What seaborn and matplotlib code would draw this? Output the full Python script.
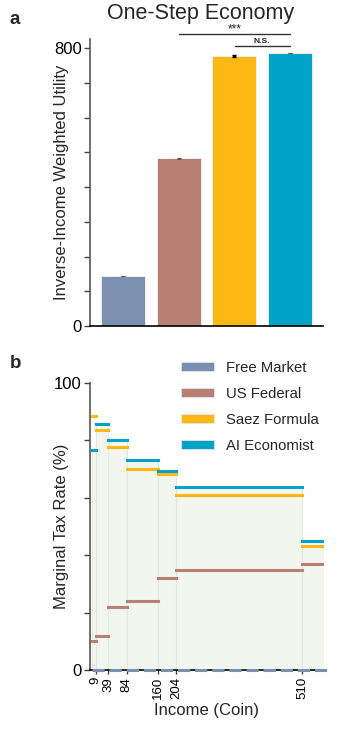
import numpy as np
import pandas as pd
import matplotlib
matplotlib.use("Agg")
import matplotlib.pyplot as plt
import seaborn as sns
from matplotlib.patches import Patch

sns.set_theme(style="white")
plt.rcParams['font.family'] = ['Liberation Sans', 'DejaVu Sans']

# ---------------- data ----------------
policies = ["Free Market", "US Federal", "Saez Formula", "AI Economist"]
utility = [144, 483, 777, 786]
utility_err = [1, 1, 4, 1]
colors = ["#7b8fae", "#b88074", "#fdb813", "#00a3c8"]

bracket_edges = [0, 9, 39, 84, 160, 204, 510, 570]
income_ticks = [9, 39, 84, 160, 204, 510]
rate_free = [0, 0, 0, 0, 0, 0, 0]
rate_us = [10, 12, 22, 24, 32, 35, 37]
rate_saez = [88.4, 83.6, 77.7, 69.9, 68.3, 61.1, 43.2]
rate_ai = [76.6, 85.7, 80.0, 73.1, 69.3, 63.8, 44.8]

W, H = 343, 732
fig = plt.figure(figsize=(W / 100, H / 100), dpi=100)

def ax_rect(l, t, r, b):
    return [l / W, 1 - b / H, (r - l) / W, (b - t) / H]

LABEL_FS = 12
TICK_FS = 12

# ---------------- panel a ----------------
axa = fig.add_axes(ax_rect(90, 39, 323, 326))
df = pd.DataFrame({"policy": policies, "utility": utility})
sns.barplot(data=df, x="policy", y="utility", hue="policy", palette=colors,
            order=policies, ax=axa, width=0.8, legend=False, errorbar=None,
            saturation=1, edgecolor="#f4f4f4", linewidth=0.6)
axa.errorbar([0, 1, 3], [utility[i] for i in (0, 1, 3)],
             yerr=[utility_err[i] for i in (0, 1, 3)], fmt="none",
             ecolor="#555555", elinewidth=0.8, capsize=1.5, capthick=0.8)
axa.errorbar([2], [utility[2]], yerr=[utility_err[2]], fmt="none", ecolor="black",
             elinewidth=2.5, capsize=1.5, capthick=1)
axa.set_xlim(-0.6, 3.6)
axa.set_ylim(0, 826)
axa.set_yticks(np.arange(0, 801, 100))
axa.set_yticklabels(["0", "", "", "", "", "", "", "", "800"])
axa.set_xticks([])
axa.set_xlabel("")
axa.set_ylabel("Inverse-Income Weighted Utility", fontsize=LABEL_FS)
axa.yaxis.set_label_coords(-0.092, 0.5)
axa.tick_params(axis="y", direction="out", length=4, width=1, colors="#444444",
                labelcolor="black", labelsize=TICK_FS, pad=2, left=True)
for s in ["top", "right"]:
    axa.spines[s].set_visible(False)
axa.spines["left"].set_color("#555555")
axa.spines["bottom"].set_color("black")
axa.spines["left"].set_linewidth(1.2)
axa.spines["bottom"].set_linewidth(1.2)

# significance markers
axa.plot([1, 3], [840, 840], color="#333333", lw=1, clip_on=False)
axa.text(2, 836, "***", ha="center", va="bottom", fontsize=8.5)
axa.plot([2.02, 3], [806, 806], color="#333333", lw=1, clip_on=False)
axa.text(2.5, 808, "N.S.", ha="center", va="bottom", fontsize=6, fontweight="bold")

fig.text(201 / W, 1 - 14 / H, "One-Step Economy", ha="center", va="center", fontsize=15.5)
fig.text(10 / W, 1 - 19 / H, "a", ha="left", va="center", fontsize=13.5, fontweight="bold")

# ---------------- panel b ----------------
axb = fig.add_axes(ax_rect(90, 383, 324, 670))
axb.set_xlim(-4.7, 563)
axb.set_ylim(0, 100)

lefts = bracket_edges[:-1]
widths = np.diff(bracket_edges)
axb.bar(lefts, rate_ai, width=widths, align="edge", color="#f2f6ee",
        edgecolor="#e3e9dd", linewidth=0.8, zorder=1)

series = [(rate_free, colors[0]), (rate_us, colors[1]),
          (rate_saez, colors[2]), (rate_ai, colors[3])]
for vals, c in series[1:]:
    for i, v in enumerate(vals):
        axb.plot([bracket_edges[i], bracket_edges[i + 1]], [v, v], color=c,
                 lw=2.2, solid_capstyle="projecting", zorder=3)
axb.plot([bracket_edges[0], bracket_edges[-1]], [rate_free[0], rate_free[-1]],
         color=colors[0], lw=2.2, linestyle=(0, (4, 1.6)), zorder=4, clip_on=False)

axb.set_yticks(np.arange(0, 101, 20))
axb.set_yticklabels(["0", "", "", "", "", "100"])
axb.set_xticks(income_ticks)
axb.set_xticklabels([str(t) for t in income_ticks], rotation=90, fontsize=9.5)
axb.tick_params(axis="y", direction="out", length=4, width=1, colors="#444444",
                labelcolor="black", labelsize=TICK_FS, pad=2, left=True)
axb.tick_params(axis="x", direction="out", length=3, width=1, colors="#444444",
                labelcolor="black", pad=2, bottom=True)
axb.set_ylabel("Marginal Tax Rate (%)", fontsize=LABEL_FS)
axb.yaxis.set_label_coords(-0.09, 0.5)
axb.set_xlabel("Income (Coin)", fontsize=LABEL_FS, labelpad=3)
for s in ["top", "right"]:
    axb.spines[s].set_visible(False)
axb.spines["left"].set_color("#555555")
axb.spines["bottom"].set_color("black")
axb.spines["left"].set_linewidth(1.2)
axb.spines["bottom"].set_linewidth(1.2)

handles = [Patch(facecolor=c, edgecolor="#dde6ee", linewidth=0.6) for c in colors]
fig.legend(handles, policies, loc="upper left",
           bbox_to_anchor=(181 / W, 1 - 361 / H), frameon=False, fontsize=10.7,
           handlelength=2.2, handleheight=0.6, handletextpad=0.85,
           labelspacing=0.8, borderpad=0, borderaxespad=0)

fig.text(10 / W, 1 - 363 / H, "b", ha="left", va="center", fontsize=13.5, fontweight="bold")

fig.savefig("out.png", dpi=100)
